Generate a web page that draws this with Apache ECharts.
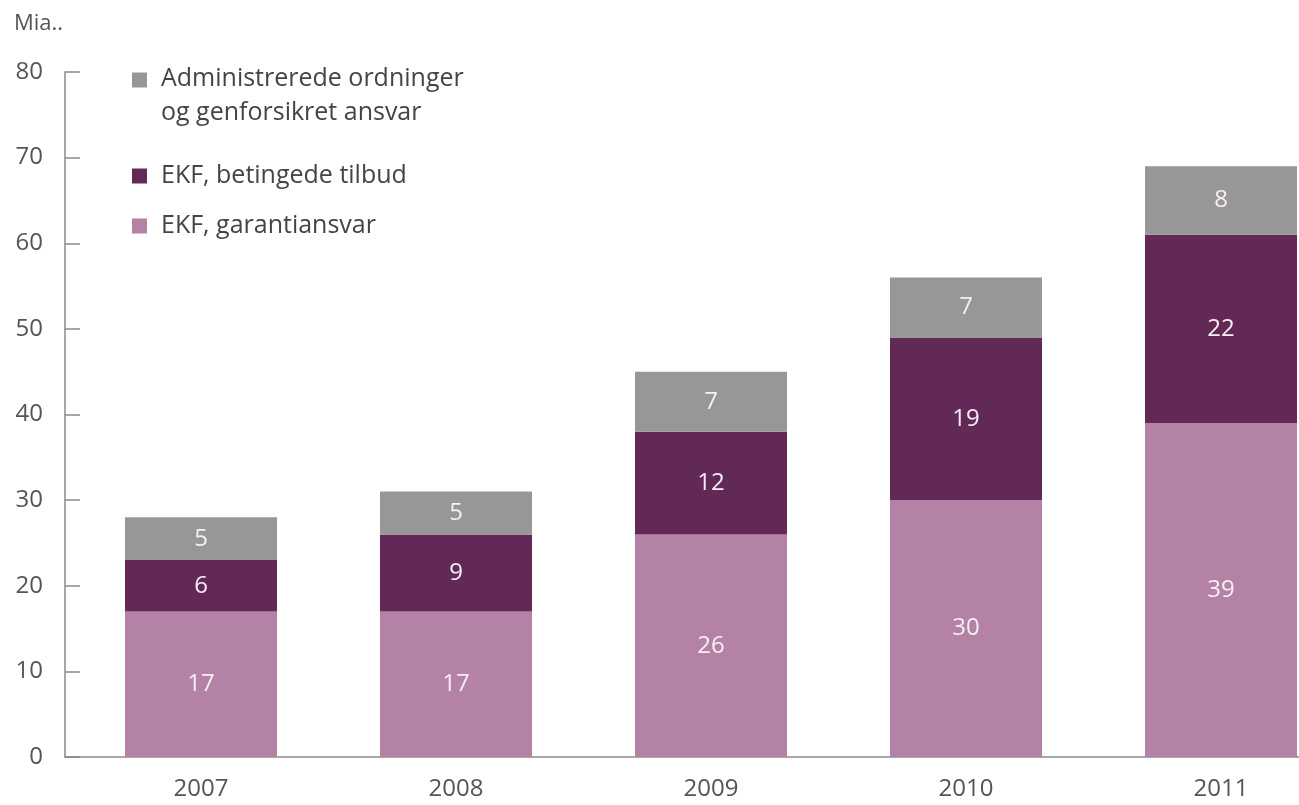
<!DOCTYPE html>
<html><head><meta charset="utf-8">
<script src="https://cdn.jsdelivr.net/npm/echarts@6/dist/echarts.min.js"></script>
<style>html,body{margin:0;padding:0;background:#fff}#c{width:1299px;height:805px}</style>
</head><body><div id="c"></div>
<script>
const years = ['2007','2008','2009','2010','2011'];
const garanti = [17,17,26,30,39];
const betingede = [6,9,12,19,22];
const administrerede = [5,5,7,7,8];
const yTicks = [0,10,20,30,40,50,60,70,80];

const nameAdm = 'Administrerede ordninger\nog genforsikret ansvar';
const nameBet = 'EKF, betingede tilbud';
const nameGar = 'EKF, garantiansvar';
const FONT = '"Open Sans", "Noto Sans", sans-serif';
const FS = 24;
const LFS = 25;
const chart = echarts.init(document.getElementById('c'), null, {renderer:'canvas'});
const lbl = {show:true, position:'inside', color:'#f6eef3', fontSize:FS, fontFamily:FONT};
const legBase = {orient:'vertical', left:132, padding:0, itemWidth:15, itemHeight:15, icon:'rect',
  textStyle:{fontSize:LFS, color:'#444', fontFamily:FONT, padding:[0,0,0,9], lineHeight:30}};
chart.setOption({
  animation:false,
  title:{text:'Mia..', left:9, top:8, textStyle:{fontSize:22, fontWeight:'normal', color:'#555', fontFamily:FONT}},
  legend:[
    Object.assign({}, legBase, {data:[nameAdm], top:62, itemHeight:47,
      icon:'path://M0,0L15,0L15,15L0,15Z M0,46.9L0.1,46.9L0.1,47L0,47Z',
      textStyle:{fontSize:LFS, color:'#444', fontFamily:FONT, padding:[0,0,0,9], lineHeight:34}}),
    Object.assign({}, legBase, {data:[nameBet], top:161}),
    Object.assign({}, legBase, {data:[nameGar], top:211})
  ],
  grid:[
    {left:201, top:72, width:1020, height:685},
    {left:65, top:72, width:1243.5, height:685}
  ],
  xAxis:[
    {type:'category', gridIndex:0, data:years, boundaryGap:false, axisLine:{show:false}, axisTick:{show:false},
     axisLabel:{fontSize:FS, color:'#555', margin:20, fontFamily:FONT}},
    {type:'category', gridIndex:1, data:years, axisLine:{lineStyle:{color:'#8a8a8a', width:1.5}},
     axisTick:{inside:true, length:10, lineStyle:{color:'#8a8a8a', width:1.5}}, axisLabel:{show:false}}
  ],
  yAxis:[
    {type:'value', gridIndex:0, min:0, max:80, interval:10, show:false},
    {type:'value', gridIndex:1, min:0, max:80, interval:10, splitLine:{show:false},
     axisLine:{show:true, lineStyle:{color:'#8a8a8a', width:1.5}},
     axisTick:{show:true, inside:true, length:15, lineStyle:{color:'#8a8a8a', width:1.5}},
     axisLabel:{fontSize:FS, color:'#555', margin:22, fontFamily:FONT,
       formatter:v=>yTicks.includes(v)?String(v):''}}
  ],
  series:[
    {name:nameGar, type:'bar', stack:'t', xAxisIndex:0, yAxisIndex:0, barWidth:152, data:garanti,
     itemStyle:{color:'#b482a5'}, label:lbl},
    {name:nameBet, type:'bar', stack:'t', xAxisIndex:0, yAxisIndex:0, barWidth:152, data:betingede,
     itemStyle:{color:'#622856'}, label:lbl},
    {name:nameAdm, type:'bar', stack:'t', xAxisIndex:0, yAxisIndex:0, barWidth:152, data:administrerede,
     itemStyle:{color:'#979797'}, label:lbl}
  ]
});
</script></body></html>
